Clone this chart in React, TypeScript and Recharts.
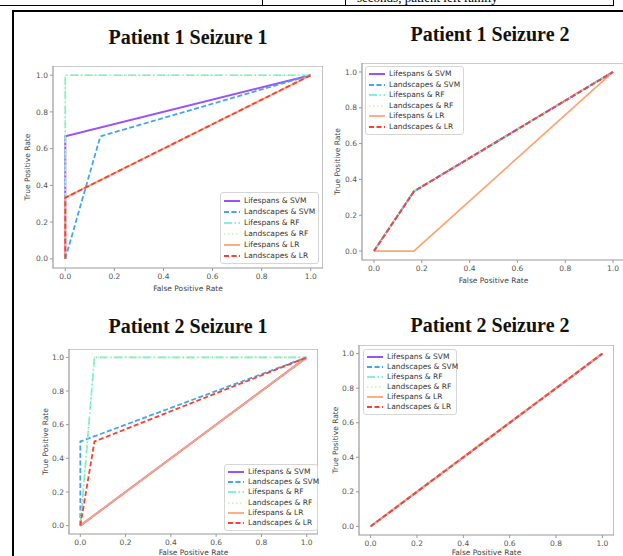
import React from 'react';
import { LineChart, Line, XAxis, YAxis, ReferenceArea } from 'recharts';

const SERIES = [
    'Lifespans & SVM', 'Landscapes & SVM', 'Lifespans & RF',
    'Landscapes & RF', 'Lifespans & LR', 'Landscapes & LR'
];
const TICKS = [0, 0.2, 0.4, 0.6, 0.8, 1.0];

// ROC points (false positive rate / true positive rate), one array per series
const p1s1Fpr = [[0, 0, 1], [0, 0.143, 1], [0, 0, 1], [0, 0, 1], [0, 0, 1], [0, 0, 1]];
const p1s1Tpr = [[0, 0.667, 1], [0, 0.667, 1], [0, 1, 1], [0, 1, 1], [0, 0.333, 1], [0, 0.333, 1]];

const p1s2Fpr = [[0, 0.167, 1], [0, 0.167, 1], [0, 0.167, 1], [0, 0.167, 1], [0, 0.167, 1], [0, 0.167, 1]];
const p1s2Tpr = [[0, 0.333, 1], [0, 0.333, 1], [0, 0.333, 1], [0, 0.333, 1], [0, 0, 1], [0, 0.333, 1]];

const p2s1Fpr = [[0, 1], [0, 0, 1], [0, 0.0625, 1], [0, 0.0625, 1], [0, 1], [0, 0.0625, 1]];
const p2s1Tpr = [[0, 1], [0, 0.5, 1], [0, 1, 1], [0, 1, 1], [0, 1], [0, 0.5, 1]];

const p2s2Fpr = [[0, 1], [0, 1], [0, 1], [0, 1], [0, 1], [0, 1]];
const p2s2Tpr = [[0, 1], [0, 1], [0, 1], [0, 1], [0, 1], [0, 1]];

const STYLES = [
    { color: '#9c52fb', dash: undefined, width: 2 },
    { color: '#44a4f4', dash: '5 2.5', width: 1.8 },
    { color: '#62eccc', dash: '8 2.5 1.5 2.5', width: 1.6 },
    { color: '#c4f2ae', dash: '1.5 2.5', width: 1.6 },
    { color: '#ffa572', dash: undefined, width: 1.8 },
    { color: '#ff3d32', dash: '5 2.5', width: 1.8 },
];

const FONT = '"DejaVu Sans", sans-serif';
const AXIS_GREY = '#999';

const PANELS = [
    {
        title: 'Patient 1 Seizure 1', fpr: p1s1Fpr, tpr: p1s1Tpr,
        titleX: 188, titleY: 37,
        left: 20, top: 66, w: 303, plotH: 202, yw: 33, xh: 24,
        legend: { left: 220, top: 192, width: 99, height: 72 },
    },
    {
        title: 'Patient 1 Seizure 2', fpr: p1s2Fpr, tpr: p1s2Tpr,
        titleX: 490, titleY: 34,
        left: 330, top: 63, w: 295, plotH: 197, yw: 32, xh: 24,
        legend: { left: 365, top: 66, width: 99, height: 69 },
    },
    {
        title: 'Patient 2 Seizure 1', fpr: p2s1Fpr, tpr: p2s1Tpr,
        titleX: 188, titleY: 326,
        left: 38, top: 349, w: 280, plotH: 185, yw: 31, xh: 22,
        legend: { left: 224, top: 464, width: 94, height: 67 },
    },
    {
        title: 'Patient 2 Seizure 2', fpr: p2s2Fpr, tpr: p2s2Tpr,
        titleX: 490, titleY: 325,
        left: 328, top: 345, w: 286, plotH: 190, yw: 31, xh: 21,
        legend: { left: 363, top: 349, width: 94, height: 66 },
    },
];

const tickStyle = { fontSize: 7.5, fill: '#555', fontFamily: FONT };

const RocLegend = ({ left, top, width, height }) => (
    <div style={{
        position: 'absolute', left, top, width, height, boxSizing: 'border-box',
        border: '1px solid #d6d6d6', borderRadius: 3, background: 'rgba(255,255,255,0.85)',
        padding: '2px 3px', display: 'flex', flexDirection: 'column', justifyContent: 'space-around'
    }}>
        {SERIES.map((name, i) => (
            <div key={name} style={{ display: 'flex', alignItems: 'center', height: 10 }}>
                <svg width={16} height={6} style={{ marginRight: 4, flexShrink: 0 }}>
                    <line x1={0} y1={3} x2={16} y2={3} stroke={STYLES[i].color}
                        strokeWidth={STYLES[i].width} strokeDasharray={STYLES[i].dash} />
                </svg>
                <span style={{ fontFamily: FONT, fontSize: 7.5, color: '#333', whiteSpace: 'nowrap', lineHeight: '10px' }}>
                    {name}
                </span>
            </div>
        ))}
    </div>
);

const RocPanel = ({ p }) => (
    <>
        <div style={{
            position: 'absolute', left: p.titleX - 120, top: p.titleY - 13, width: 240,
            textAlign: 'center', fontFamily: '"Liberation Serif", serif', fontWeight: 'bold',
            fontSize: 20, lineHeight: '26px', color: '#111'
        }}>
            {p.title}
        </div>
        <div style={{ position: 'absolute', left: p.left, top: p.top }}>
            <LineChart width={p.w} height={p.plotH + p.xh} margin={{ top: 0, right: 0, bottom: 0, left: 0 }}>
                <XAxis type="number" dataKey="x" domain={[-0.05, 1.05]} ticks={TICKS} interval={0}
                    allowDataOverflow height={p.xh} tickFormatter={(v) => v.toFixed(1)}
                    tick={tickStyle} tickSize={3} tickMargin={3} axisLine={false}
                    tickLine={{ stroke: AXIS_GREY }}
                    label={{ value: 'False Positive Rate', position: 'insideBottom', offset: 1,
                        style: { fontSize: 7.5, fill: '#444', fontFamily: FONT } }} />
                <YAxis type="number" domain={[-0.05, 1.05]} ticks={TICKS} interval={0}
                    allowDataOverflow width={p.yw} tickFormatter={(v) => v.toFixed(1)}
                    tick={tickStyle} tickSize={3} tickMargin={2} axisLine={false}
                    tickLine={{ stroke: AXIS_GREY }}
                    label={{ value: 'True Positive Rate', angle: -90, position: 'insideLeft', offset: 7,
                        style: { fontSize: 7.5, fill: '#444', fontFamily: FONT, textAnchor: 'middle' } }} />
                <ReferenceArea x1={-0.05} x2={1.05} y1={-0.05} y2={1.05}
                    fill="none" stroke={AXIS_GREY} strokeWidth={1.2} />
                {SERIES.map((name, i) => (
                    <Line key={name} name={name} type="linear" dataKey="y"
                        data={p.fpr[i].map((x, j) => ({ x, y: p.tpr[i][j] }))}
                        stroke={STYLES[i].color} strokeWidth={STYLES[i].width}
                        strokeDasharray={STYLES[i].dash} dot={false} activeDot={false}
                        isAnimationActive={false} />
                ))}
            </LineChart>
        </div>
        <RocLegend {...p.legend} />
    </>
);

export default function App() {
    return (
        <div style={{ position: 'absolute', left: 0, top: 0, width: 623, height: 556, overflow: 'hidden', background: '#fff' }}>
            {/* bottom of the table row above the figure */}
            <div style={{ position: 'absolute', left: -2, top: -30, width: 614, height: 34, border: '1px solid #000' }} />
            <div style={{ position: 'absolute', left: 262, top: 0, width: 1, height: 5, background: '#000' }} />
            <div style={{ position: 'absolute', left: 345, top: 0, width: 1, height: 5, background: '#000' }} />
            <div style={{ position: 'absolute', left: 357, top: 0, width: 250, height: 5, overflow: 'hidden' }}>
                <div style={{ position: 'absolute', top: -9, left: 0, fontFamily: '"Liberation Serif", serif', fontSize: 13, lineHeight: '13px', whiteSpace: 'nowrap' }}>
                    seconds, patient left family
                </div>
            </div>
            {/* figure frame */}
            <div style={{ position: 'absolute', left: 12, top: 10, width: 650, height: 600, border: '2px solid #000' }} />
            {PANELS.map((p) => <RocPanel key={p.title} p={p} />)}
        </div>
    );
}
